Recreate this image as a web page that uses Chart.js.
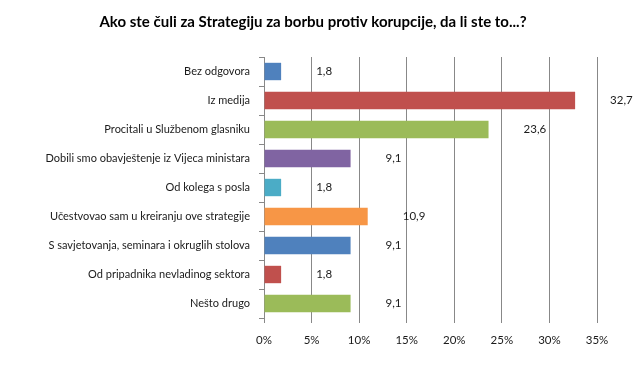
<!DOCTYPE html>
<html>
<head>
<meta charset="utf-8">
<script src="https://cdn.jsdelivr.net/npm/chart.js@4"></script>
<style>
  html, body { margin: 0; padding: 0; background: #fff; }
  #wrap { width: 639px; height: 389px; position: relative; }
</style>
</head>
<body>
<div id="wrap"><canvas id="chart"></canvas></div>
<script>
const titleText = 'Ako ste čuli za Strategiju za borbu protiv korupcije, da li ste to...?';

const categories = [
    'Bez odgovora',
    'Iz medija',
    'Procitali u Službenom glasniku',
    'Dobili smo obavještenje iz Vijeca ministara',
    'Od kolega s posla',
    'Učestvovao sam u kreiranju ove strategije',
    'S savjetovanja, seminara i okruglih stolova',
    'Od pripadnika nevladinog sektora',
    'Nešto drugo'
];
const values = [1.8, 32.7, 23.6, 9.1, 1.8, 10.9, 9.1, 1.8, 9.1];
const barColors = ['#4F81BD', '#C0504D', '#9BBB59', '#8064A2', '#4BACC6', '#F79646', '#4F81BD', '#C0504D', '#9BBB59'];
const xTicks = [0, 5, 10, 15, 20, 25, 30, 35];

const fontFamily = 'Lato, "Open Sans", sans-serif';

// title drawn by hand so the plot area stays where we want it
const titlePlugin = {
    id: 'titleText',
    afterDraw(chart) {
        const ctx = chart.ctx;
        ctx.save();
        ctx.font = 'bold 15px ' + fontFamily;
        ctx.fillStyle = '#000';
        ctx.textAlign = 'center';
        ctx.textBaseline = 'middle';
        ctx.fillText(titleText, 313, 22);
        ctx.restore();
    }
};

// value labels, a fixed gap after the bar end
const valueLabels = {
    id: 'valueLabels',
    afterDatasetsDraw(chart) {
        const ctx = chart.ctx;
        const meta = chart.getDatasetMeta(0);
        ctx.save();
        ctx.font = '11.5px ' + fontFamily;
        ctx.fillStyle = '#1a1a1a';
        ctx.textAlign = 'left';
        ctx.textBaseline = 'middle';
        meta.data.forEach((bar, i) => {
            ctx.fillText(values[i].toFixed(1).replace('.', ','), bar.x + 35, bar.y);
        });
        ctx.restore();
    }
};

new Chart(document.getElementById('chart'), {
    type: 'bar',
    data: {
        labels: categories,
        datasets: [{
            data: values,
            backgroundColor: barColors,
            borderWidth: 0,
            barPercentage: 0.6,
            categoryPercentage: 1.0
        }]
    },
    options: {
        indexAxis: 'y',
        responsive: true,
        maintainAspectRatio: false,
        animation: false,
        layout: { padding: { top: 57, right: 42, left: 0, bottom: 0 } },
        plugins: {
            legend: { display: false },
            tooltip: { enabled: false },
            title: { display: false }
        },
        scales: {
            x: {
                min: 0,
                max: 35,
                afterBuildTicks: scale => { scale.ticks = xTicks.map(v => ({ value: v })); },
                afterFit: scale => { scale.height = 389 - 318; },
                grid: { color: '#888', tickLength: 5, tickColor: '#888' },
                border: { display: false },
                ticks: {
                    color: '#1a1a1a',
                    font: { size: 11.5, family: fontFamily },
                    padding: 10,
                    callback: v => v + '%'
                }
            },
            y: {
                afterFit: scale => { scale.width = 264; },
                grid: { drawOnChartArea: false, tickLength: 5, tickColor: '#888', offset: true },
                border: { display: true, color: '#888' },
                ticks: {
                    color: '#1a1a1a',
                    font: { size: 11, family: fontFamily },
                    padding: 9
                }
            }
        }
    },
    plugins: [titlePlugin, valueLabels]
});
</script>
</body>
</html>
